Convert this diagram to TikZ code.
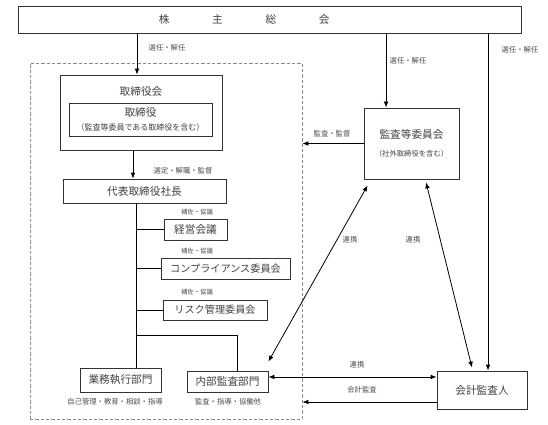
\documentclass[tikz,border=0pt]{standalone}
\usepackage{fontspec}
\setmainfont{Noto Sans CJK JP}
\usetikzlibrary{arrows.meta}

\tikzset{
  box/.style={draw=black!80, line width=0.6pt, text=black!75, inner sep=0pt, align=center, font=\fontsize{8}{9}\selectfont},
  title/.style={text=black!75, inner sep=0.75pt, font=\fontsize{8}{9}\selectfont},
  lbl/.style={text=black!70, inner sep=0.75pt, font=\fontsize{5.5}{6}\selectfont},
  hosa/.style={lbl, font=\fontsize{4.8}{5}\selectfont},
  conn/.style={draw=black, line width=0.6pt},
}

\begin{document}
\begin{tikzpicture}[x=0.75pt,y=0.75pt,yscale=-1,xscale=1, >={Latex[length=4.5pt,width=3.5pt]}]
\useasboundingbox (0,0) rectangle (548,424);

%Frame around the board side
\node [draw=black!45, dash pattern=on 2.5pt off 1.5pt, line width=0.6pt, minimum width=204pt, minimum height=267pt, inner sep=0pt] (frame) at (166,241) {};

% Boxes
\node [box, minimum width=377.25pt, minimum height=20.25pt] (soukai) at (269.5,19.5) {株\hspace{4em}主\hspace{4em}総\hspace{4em}会\hspace{38pt}};
\node [box, minimum width=121.5pt, minimum height=56.25pt] (torikai) at (141,112.5) {};
\node [title] (torikaiT) at (141,91) {取締役会};
\node [box, minimum width=107.25pt, minimum height=24.75pt] (tori) at (140.5,119.5) {取締役\\[1.5pt]{\fontsize{6}{7}\selectfont （監査等委員である取締役を含む）}};
\node [box, minimum width=122.25pt, minimum height=18pt] (shachou) at (144.5,191) {代表取締役社長};
\node [box, minimum width=47.25pt, minimum height=15.75pt] (keiei) at (195.5,229.5) {経営会議};
\node [box, minimum width=96.75pt, minimum height=15.75pt, font=\fontsize{7.6}{9}\selectfont] (comp) at (225.5,268.5) {コンプライアンス委員会};
\node [box, minimum width=78pt, minimum height=15pt, font=\fontsize{7.6}{9}\selectfont] (risk) at (215,310) {リスク管理委員会};
\node [box, minimum width=60.75pt, minimum height=18pt] (gyoumu) at (120.5,380) {業務執行部門};
\node [box, minimum width=60.75pt, minimum height=15.75pt] (naibu) at (227.5,381.5) {内部監査部門};
\node [box, minimum width=71.25pt, minimum height=53.25pt] (kansatou) at (411.5,143.5) {監査等委員会\\[4pt]{\fontsize{5.5}{6}\selectfont （社外取締役を含む）}};
\node [box, minimum width=67.5pt, minimum height=28.5pt] (kaikei) at (482,390) {会計監査人};

% Connectors
\coordinate (a1) at ([xshift=-3pt]torikai.north);
\coordinate (a2) at ([xshift=-19.1pt]kansatou.north);
\coordinate (a3) at ([xshift=4.5pt]kaikei.north);
\coordinate (a4) at ([xshift=-6pt]torikai.south);
\coordinate (tr) at ([xshift=-6.4pt]shachou.south);
\coordinate (r1) at ([yshift=-3.4pt]naibu.east);
\coordinate (r2) at ([yshift=9pt]kaikei.west);
\draw [conn,->] (a1 |- soukai.south) -- (a1);
\draw [conn,->] (a2 |- soukai.south) -- (a2);
\draw [conn,->] (a3 |- soukai.south) -- (a3);
\draw [conn,->] (a4) -- (a4 |- shachou.north);
\draw [conn] (tr) -- (tr |- gyoumu.north);
\draw [conn] (tr |- keiei.west) -- (keiei.west);
\draw [conn] (tr |- comp.west) -- (comp.west);
\draw [conn] (tr |- risk.west) -- (risk.west);
\draw [conn] (tr |- 0,335) -| ([xshift=7.1pt]naibu.north);
\draw [conn,->] (kansatou.west) -- (kansatou.west -| frame.east);
\draw [conn,<->] ([yshift=-6.75pt]naibu.north east) -- ([xshift=3pt,yshift=4.5pt]kansatou.south west);
\draw [conn,<->] ([xshift=10.9pt,yshift=2.25pt]kansatou.south) -- ([xshift=-7.5pt,yshift=-2.25pt]kaikei.north);
\draw [conn,<->] (r1) -- (r1 -| kaikei.west);
\draw [conn,->] (r2) -- (r2 -| frame.east);

% Text Node
\node [lbl] (l1) at (167,48) {選任・解任};
\node [lbl] (l2) at (408,61) {選任・解任};
\node [lbl] (l3) at (520,50) {選任・解任};
\node [lbl] (l4) at (183,171) {選定・解職・監督};
\node [hosa] (h1) at (197,212) {補佐・協議};
\node [hosa] (h2) at (197,251) {補佐・協議};
\node [hosa] (h3) at (197,292) {補佐・協議};
\node [lbl] (l5) at (332,134) {監査・監督};
\node [lbl] (l6) at (350,240) {連携};
\node [lbl] (l7) at (413,240) {連携};
\node [lbl] (l8) at (357,365) {連携};
\node [lbl] (l9) at (362,390) {会計監査};
\node [lbl] (l10) at (115,402) {自己管理・教育・相談・指導};
\node [lbl] (l11) at (228,402) {監査・指導・協働他};

\end{tikzpicture}
\end{document}
